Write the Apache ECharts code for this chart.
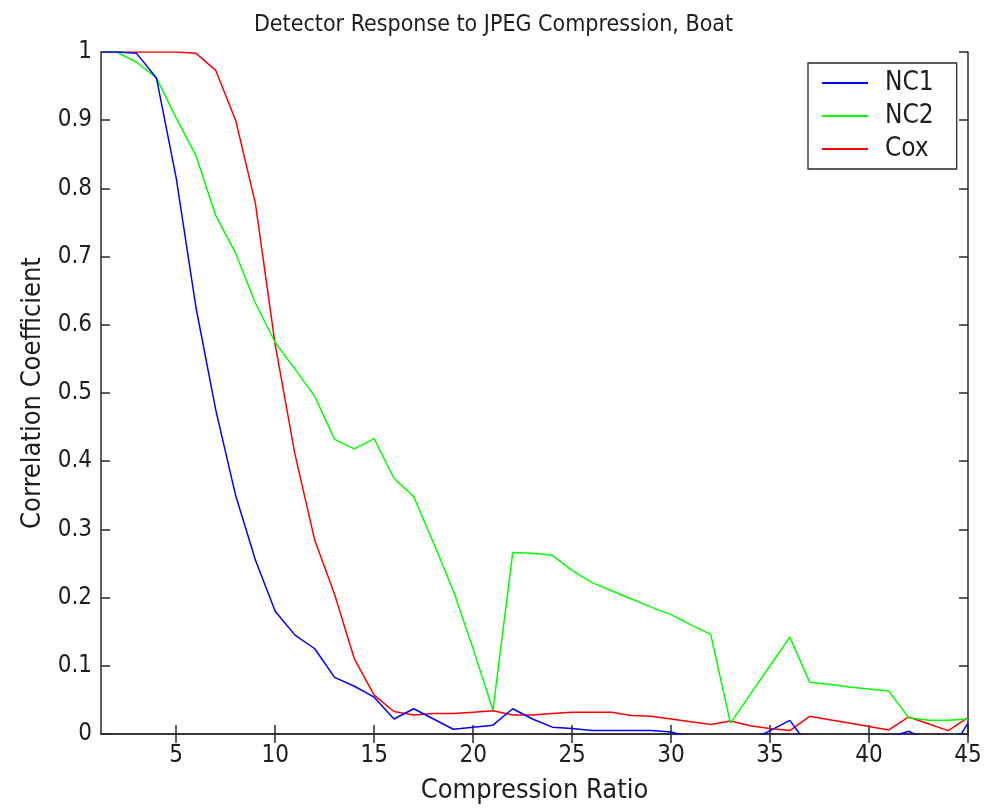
<!DOCTYPE html>
<html>
<head>
<meta charset="utf-8">
<script src="https://cdn.jsdelivr.net/npm/echarts@6/dist/echarts.min.js"></script>
<style>html,body{margin:0;padding:0;background:#fff;}#c{width:987px;height:809px;}</style>
</head>
<body>
<div id="c"></div>
<script>
const xValues = [1.2,2,3,4,5,6,7,8,9,10,11,12,13,14,15,16,17,18,19,20,21,22,23,24,25,26,27,28,29,30,31,32,33,34,35,36,37,38,39,40,41,42,43,44,45];
const nc1 = [1,1,0.998,0.962,0.815,0.625,0.475,0.35,0.255,0.18,0.145,0.125,0.083,0.07,0.054,0.022,0.037,0.022,0.007,0.01,0.013,0.037,0.022,0.01,0.008,0.005,0.005,0.005,0.005,0.003,-0.005,-0.01,-0.01,-0.01,0.005,0.02,-0.02,-0.02,-0.02,-0.01,-0.005,0.004,-0.01,-0.03,0.016];
const nc2 = [1,1,0.985,0.962,0.903,0.848,0.76,0.705,0.632,0.574,0.535,0.495,0.432,0.418,0.433,0.375,0.348,0.28,0.21,0.125,0.035,0.266,0.265,0.262,0.24,0.222,0.21,0.198,0.186,0.175,0.16,0.146,0.016,0.058,0.1,0.142,0.076,0.073,0.069,0.066,0.063,0.024,0.02,0.02,0.022];
const cox = [1,1,1,1,1,0.998,0.973,0.9,0.778,0.571,0.41,0.284,0.205,0.11,0.057,0.033,0.028,0.03,0.03,0.032,0.034,0.028,0.028,0.03,0.032,0.032,0.032,0.027,0.026,0.022,0.018,0.014,0.019,0.012,0.008,0.005,0.026,0.021,0.016,0.011,0.006,0.025,0.015,0.005,0.024];
const xTicks = [5,10,15,20,25,30,35,40,45];
const yTicks = [0,0.1,0.2,0.3,0.4,0.5,0.6,0.7,0.8,0.9,1];
const seriesNames = ['NC1','NC2','Cox'];
const colors = ['#0000ff','#00ff00','#ff0000'];
const titleText = 'Detector Response to JPEG Compression, Boat';
const xName = 'Compression Ratio';
const yName = 'Correlation Coefficient';

const font = '"DejaVu Sans Condensed", "Liberation Sans", sans-serif';
const txt = '#1e1e1e';
const chart = echarts.init(document.getElementById('c'));
const pair = arr => xValues.map((x,i)=>[x, arr[i]]);
const axLine = {show:true, lineStyle:{color:'#2a2a2a', width:1.5}};
const tick = {show:true, inside:true, length:9, lineStyle:{color:'#2a2a2a', width:1.5}};
chart.setOption({
  backgroundColor:'#fff',
  animation:false,
  title:{text:titleText, left:'center', top:9, textStyle:{fontFamily:font, fontSize:23, fontWeight:'normal', color:txt}},
  legend:{
    data:seriesNames, orient:'vertical', left:808, top:63,
    icon:'rect', itemWidth:46, itemHeight:2, itemGap:7,
    padding:[7,23,7,14], borderColor:'#2a2a2a', borderWidth:1.3, backgroundColor:'#fff',
    textStyle:{fontFamily:font, fontSize:26, color:txt, lineHeight:26, padding:[0,0,0,12]}
  },
  grid:{left:101, top:52, width:867, height:683, containLabel:false},
  xAxis:[
    {type:'value', min:1.2, max:45, position:'bottom',
     name:xName, nameLocation:'middle', nameGap:43, nameTextStyle:{fontFamily:font, fontSize:27, color:txt},
     axisLine:axLine, axisTick:Object.assign({customValues:xTicks}, tick),
     axisLabel:{customValues:xTicks, fontFamily:font, fontSize:24, color:txt, margin:10},
     splitLine:{show:false}},
    {type:'value', min:1.2, max:45, position:'top',
     axisLine:axLine, axisTick:Object.assign({customValues:xTicks}, tick),
     axisLabel:{show:false}, splitLine:{show:false}}
  ],
  yAxis:[
    {type:'value', min:0, max:1, interval:0.1, position:'left',
     name:yName, nameLocation:'middle', nameGap:55, nameRotate:90, nameTextStyle:{fontFamily:font, fontSize:27, color:txt},
     axisLine:axLine, axisTick:tick,
     axisLabel:{fontFamily:font, fontSize:24, color:txt, margin:9, formatter:v=>String(Math.round(v*10)/10)},
     splitLine:{show:false}},
    {type:'value', min:0, max:1, interval:0.1, position:'right',
     axisLine:axLine, axisTick:tick, axisLabel:{show:false}, splitLine:{show:false}}
  ],
  series:[nc1,nc2,cox].map((arr,i)=>({
    name:seriesNames[i], type:'line', data:pair(arr), showSymbol:false, symbol:'none',
    lineStyle:{color:colors[i], width:1.5}, itemStyle:{color:colors[i]}, clip:true, z:3-i
  })).reverse()
});
</script>
</body>
</html>
